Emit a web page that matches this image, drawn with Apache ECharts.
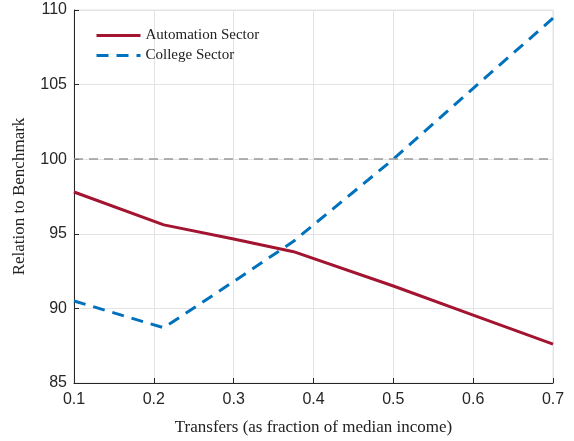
<!DOCTYPE html>
<html>
<head>
<meta charset="utf-8">
<script src="https://cdn.jsdelivr.net/npm/echarts@6/dist/echarts.min.js"></script>
<style>
  html, body { margin: 0; padding: 0; background: #fff; }
  #chart { width: 574px; height: 441px; }
</style>
</head>
<body>
<div id="chart"></div>
<script>
// transfers (fraction of median income)
const transfers = [0.1, 0.2125, 0.3, 0.375, 0.5, 0.6, 0.7];
const automation = [97.8, 95.6, 94.65, 93.8, 91.5, 89.55, 87.6];
const college = [90.5, 88.7, 91.8, 94.5, 100.0, 104.75, 109.45];
const benchmark = 100;

const pairs = (xs, ys) => xs.map((x, i) => [x, ys[i]]);

const chart = echarts.init(document.getElementById("chart"));
const tickFont = { color: "#262626", fontSize: 16, fontFamily: "Liberation Sans" };

chart.setOption({
  animation: false,
  grid: {
    left: 74, right: 21, top: 10, bottom: 57,
    show: true, borderColor: "#e3e3e3", borderWidth: 1
  },
  legend: {
    orient: "vertical",
    left: 90, top: 23,
    itemWidth: 44, itemHeight: 12, itemGap: 5,
    itemStyle: { opacity: 0 },
    lineStyle: { width: 3 },
    textStyle: { fontFamily: "Liberation Serif", fontSize: 15, color: "#222" },
    data: ["Automation Sector", "College Sector"]
  },
  xAxis: {
    type: "value", min: 0.1, max: 0.7, interval: 0.1,
    name: "Transfers (as fraction of median income)",
    nameLocation: "middle", nameGap: 36,
    nameTextStyle: { fontFamily: "Liberation Serif", fontSize: 17, color: "#222" },
    axisLine: { lineStyle: { color: "#262626", width: 1 } },
    axisTick: { inside: true, length: 5, lineStyle: { color: "#262626" } },
    axisLabel: Object.assign({ margin: 9, formatter: v => v.toFixed(1) }, tickFont),
    splitLine: { show: true, lineStyle: { color: "#e3e3e3", width: 1 } }
  },
  yAxis: {
    type: "value", min: 85, max: 110, interval: 5,
    name: "Relation to Benchmark",
    nameLocation: "middle", nameGap: 46,
    nameTextStyle: { fontFamily: "Liberation Serif", fontSize: 17, color: "#222" },
    axisLine: { show: true, lineStyle: { color: "#262626", width: 1 } },
    axisTick: { show: true, inside: true, length: 5, lineStyle: { color: "#262626" } },
    axisLabel: Object.assign({ margin: 7 }, tickFont),
    splitLine: { show: true, lineStyle: { color: "#e3e3e3", width: 1 } }
  },
  series: [
    {
      name: "Automation Sector",
      type: "line",
      data: pairs(transfers, automation),
      symbol: "none",
      color: "#A2142F",
      lineStyle: { width: 3, color: "#A2142F" },
      z: 3,
      markLine: {
        silent: true,
        symbol: "none",
        label: { show: false },
        lineStyle: { type: [9, 6], color: "#999999", width: 1.5 },
        data: [{ yAxis: benchmark }]
      }
    },
    {
      name: "College Sector",
      type: "line",
      data: pairs(transfers, college),
      symbol: "none",
      color: "#0072BD",
      lineStyle: { width: 3, color: "#0072BD", type: [12, 8] },
      z: 4
    }
  ]
});
</script>
</body>
</html>
